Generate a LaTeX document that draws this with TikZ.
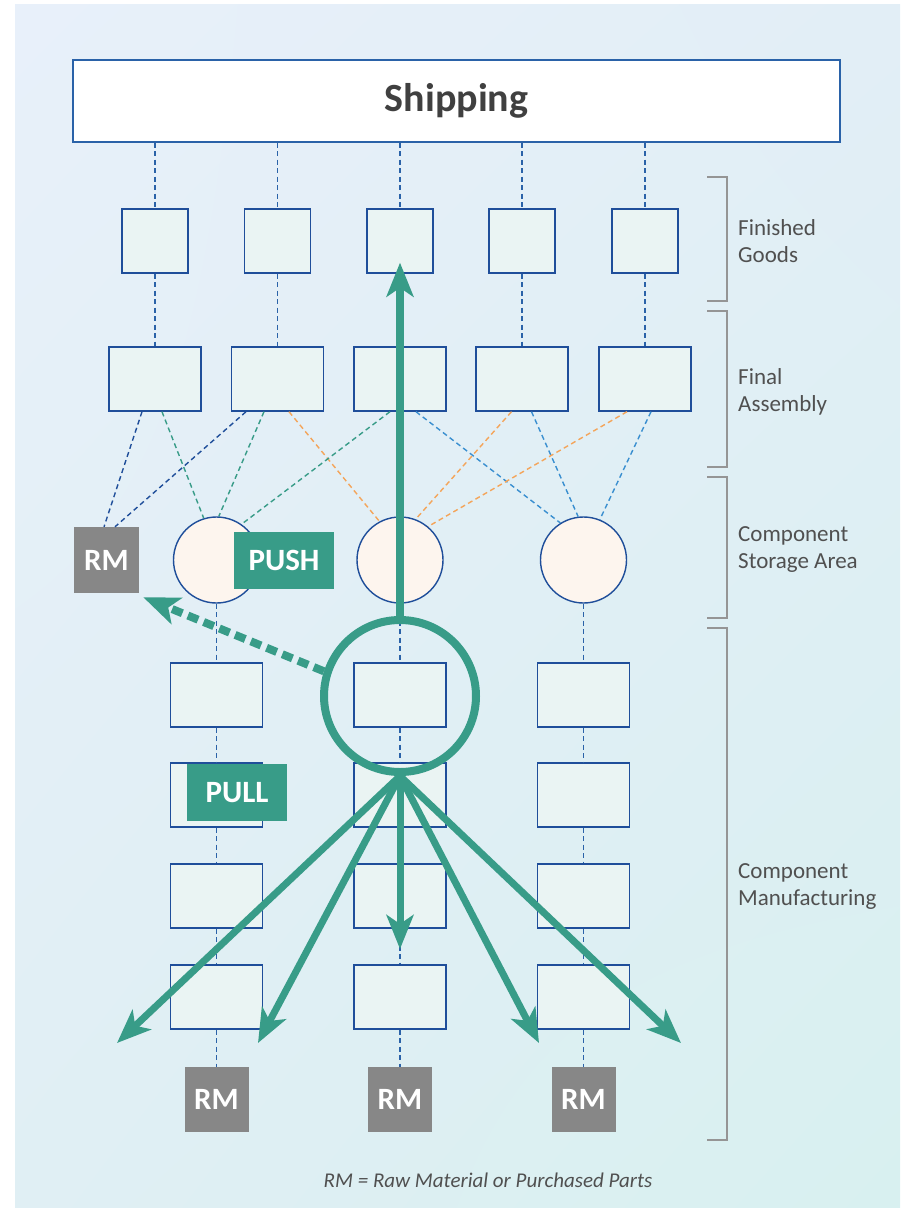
\documentclass[tikz,border=0pt]{standalone}
\usepackage{fontspec}
\setmainfont{Carlito}
\usetikzlibrary{arrows.meta,calc,shadings}
\definecolor{teal1}{HTML}{389C88}
\definecolor{navy}{HTML}{1F4E9A}
\definecolor{dblue}{HTML}{2A62A8}
\definecolor{lblue}{HTML}{3A8FD0}
\definecolor{orng}{HTML}{F4A55A}
\definecolor{boxfill}{HTML}{EAF4F3}
\definecolor{circfill}{HTML}{FDF5EE}
\definecolor{rmgray}{HTML}{878787}
\definecolor{bgA}{HTML}{E8F0FA}
\definecolor{bgB}{HTML}{E2EEF6}
\definecolor{bgC}{HTML}{E0EFF4}
\definecolor{bgD}{HTML}{D8F0F0}
\definecolor{txt}{HTML}{404040}
\definecolor{lbl}{HTML}{505050}
\definecolor{brk}{HTML}{959595}
\begin{document}
\begin{tikzpicture}[x=1pt,y=-1pt,
  pbox/.style={draw=navy,line width=1.4pt,fill=boxfill,inner sep=0pt},
  fgbox/.style={pbox,minimum width=66pt,minimum height=64pt},
  wbox/.style={pbox,minimum width=92pt,minimum height=64pt},
  storecirc/.style={circle,draw=navy,line width=1.4pt,fill=circfill,minimum size=86pt,inner sep=0pt},
  rmbox/.style={fill=rmgray,text=white,font=\bfseries\fontsize{31}{31}\selectfont,inner sep=0pt,minimum width=65pt,minimum height=66pt},
  tagbox/.style={fill=teal1,text=white,font=\bfseries\fontsize{31}{31}\selectfont,inner sep=0pt,minimum width=100pt,minimum height=57pt},
  dl/.style={dash pattern=on 5pt off 3.5pt,line width=1.4pt},
  vlink/.style={dl,draw=dblue},
  lnavy/.style={dl,draw=navy},
  lteal/.style={dl,draw=teal1},
  lorng/.style={dl,draw=orng},
  lblu/.style={dl,draw=lblue},
  bracket/.style={draw=brk,line width=1.4pt},
  sectlabel/.style={anchor=west,align=left,text=lbl,font=\fontsize{23}{27}\selectfont,inner sep=0pt},
  thickarrow/.style={draw=teal1,line width=7pt,-{Stealth[length=34pt,width=27pt,inset=9pt]}}
]
\useasboundingbox (0,0) rectangle (900,1208);
\shade[upper left=bgA,upper right=bgB,lower left=bgC,lower right=bgD] (15,4) rectangle (900,1208);

% Shipping
\node[draw=dblue,line width=1.4pt,fill=white,minimum width=767pt,minimum height=82pt,inner sep=0pt,
      font=\bfseries\fontsize{40}{40}\selectfont,text=txt] (ship) at (456.5,101) {Shipping};

% Finished goods and final assembly
\foreach \i/\x in {1/155,2/277.5,3/400,4/522,5/645}{
  \node[fgbox] (fg\i) at (\x,241) {};
  \node[wbox] (fa\i) at (\x,379) {};
}
% storage circles
\node[storecirc] (c1) at (216.5,560) {};
\node[storecirc] (c2) at (400,560) {};
\node[storecirc] (c3) at (583.5,560) {};
\node[rmbox] (rmL) at (106.5,560) {RM};

% component manufacturing
\foreach \c/\x in {1/216.5,2/400,3/583.5}{
  \foreach \r/\y in {1/695,2/795,3/896,4/997}{
    \node[wbox] (cm\c\r) at (\x,\y) {};
  }
  \node[rmbox,minimum width=64pt,minimum height=65pt] (rm\c) at (\x,1099.5) {RM};
}

% vertical links
\foreach \i in {1,...,5}{
  \draw[vlink] (ship.south -| fg\i) -- (fg\i.north);
  \draw[vlink] (fg\i.south) -- (fa\i.north);
}
\foreach \c in {1,2,3}{
  \draw[vlink] (c\c.south) -- (cm\c1.north);
  \draw[vlink] (cm\c1.south) -- (cm\c2.north);
  \draw[vlink] (cm\c2.south) -- (cm\c3.north);
  \draw[vlink] (cm\c3.south) -- (cm\c4.north);
  \draw[vlink] (cm\c4.south) -- (rm\c.north);
}

% final assembly to storage links
\draw[lnavy] ([xshift=-13pt]fa1.south) -- ([xshift=-2.5pt]rmL.north);
\draw[lteal] ([xshift=7pt]fa1.south) -- (c1.107);
\draw[lnavy] ([xshift=-31.5pt]fa2.south) -- ([xshift=8.5pt]rmL.north);
\draw[lteal] ([xshift=-13.5pt]fa2.south) -- (c1.87);
\draw[lorng] ([xshift=11.5pt]fa2.south) -- (c2.118);
\draw[lteal] ([xshift=-10pt]fa3.south) -- (c1.55);
\draw[lblu] ([xshift=16pt]fa3.south) -- (c3.122);
\draw[lorng] ([xshift=-10.5pt]fa4.south) -- (c2.69);
\draw[lblu] ([xshift=9.5pt]fa4.south) -- (c3.97);
\draw[lorng] ([xshift=-18pt]fa5.south) -- (c2.50);
\draw[lblu] ([xshift=6pt]fa5.south) -- (c3.68);

% tags
\node[tagbox] (push) at (284,560.5) {PUSH};
\node[tagbox] (pull) at (237,792.5) {PULL};

% big circle and arrows
\node[circle,draw=teal1,line width=8pt,minimum size=152pt,inner sep=0pt] (bigc) at (400,696) {};
\draw[thickarrow,line width=8pt] (bigc.north) -- ([yshift=11pt]fg3.south);
\draw[draw=teal1,line width=8pt,dash pattern=on 11pt off 6pt,-{Stealth[length=36pt,width=28pt,inset=9pt]}]
  (bigc.162) -- ([xshift=4pt,yshift=-4pt]rmL.south east);
\coordinate (t1) at (117,1043);
\coordinate (t2) at (258,1043);
\coordinate (t3) at (400,949);
\coordinate (t4) at (539,1043);
\coordinate (t5) at (681,1043);
\foreach \t in {1,...,5}{
  \draw[thickarrow] (bigc.south) -- (t\t);
}

% brackets
\draw[bracket] (707,177) -- (727,177) -- (727,301) -- (707,301);
\draw[bracket] (707,311) -- (727,311) -- (727,467) -- (707,467);
\draw[bracket] (707,477) -- (727,477) -- (727,618) -- (707,618);
\draw[bracket] (707,628) -- (727,628) -- (727,1140) -- (707,1140);
\node[sectlabel] (l1) at (738,241) {Finished\\Goods};
\node[sectlabel] (l2) at (738,392) {Final\\Assembly};
\node[sectlabel] (l3) at (738,550) {Component\\Storage Area};
\node[sectlabel] (l4) at (738,887) {Component\\Manufacturing};

% caption
\node[text=lbl,font=\itshape\fontsize{21}{21}\selectfont,inner sep=0pt] (cap) at (488,1180) {RM = Raw Material or Purchased Parts};
\end{tikzpicture}
\end{document}
